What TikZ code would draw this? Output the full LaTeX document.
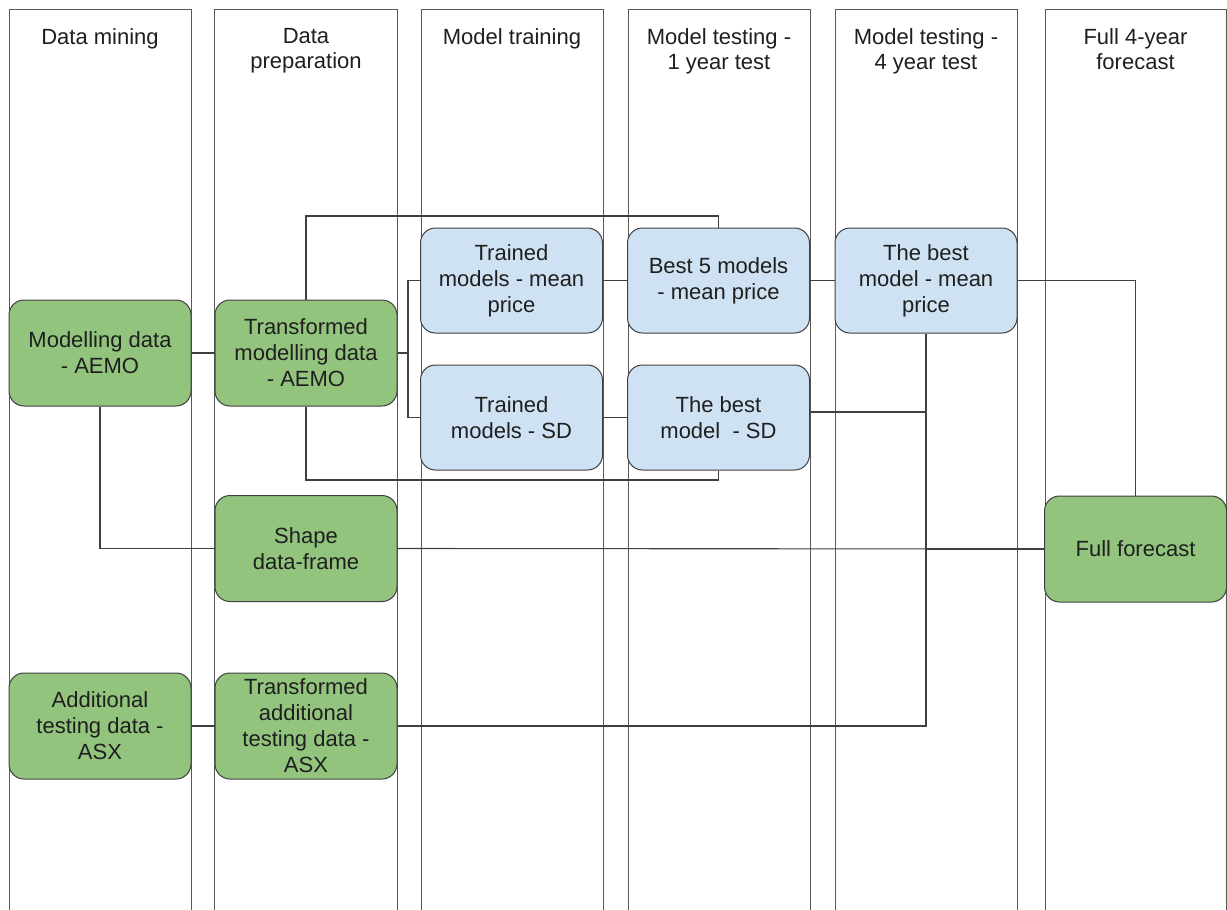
\documentclass[tikz,border=0pt]{standalone}
\usepackage{fontspec}
\setmainfont{Liberation Sans}
\definecolor{gfill}{HTML}{93C47D}
\definecolor{bfill}{HTML}{CFE2F3}
\definecolor{edge}{HTML}{404040}
\definecolor{lane}{HTML}{595959}
\definecolor{txt}{HTML}{1F1F1F}
\tikzset{
  box/.style={draw=edge, line width=1pt, rounded corners=15pt, inner sep=0pt,
    align=center, text=txt, font=\fontsize{22pt}{26pt}\selectfont},
  gbox/.style={box, fill=gfill, minimum width=182pt, minimum height=106pt},
  bbox/.style={box, fill=bfill, minimum width=182pt, minimum height=105pt},
  lanebox/.style={draw=lane, line width=0.9pt},
  hdr/.style={anchor=north, inner sep=0pt, align=center, text=txt,
    font=\fontsize{22pt}{25pt}\selectfont},
  conn/.style={draw=edge, line width=1.1pt}
}
\begin{document}
\begin{tikzpicture}[x=1pt,y=-1pt]
\useasboundingbox (0,0) rectangle (1227,910);
\fill[white] (0,0) rectangle (1227,910);
% lanes
\foreach \a/\b in {9/191, 214/397, 421/603, 628/810, 835/1017, 1045/1226}{
  \draw[lanebox] (\a,911) -- (\a,9) -- (\b,9) -- (\b,911);
}
% headers
\node[hdr] (h1) at (100,28) {Data mining};
\node[hdr] (h2) at (306,28) {Data\\preparation};
\node[hdr] (h3) at (512,28) {Model training};
\node[hdr] (h4) at (719,28) {Model testing -\\1 year test};
\node[hdr] (h5) at (926,28) {Model testing -\\4 year test};
\node[hdr] (h6) at (1135.5,28) {Full 4-year\\forecast};
% nodes
\node[gbox] (md) at (100,353) {Modelling data\\- AEMO};
\node[gbox] (tmd) at (306,353) {Transformed\\modelling data\\- AEMO};
\node[gbox] (sdf) at (306,548.5) {Shape\\data-frame};
\node[gbox] (atd) at (100,726) {Additional\\testing data -\\ASX};
\node[gbox] (tatd) at (306,726) {Transformed\\additional\\testing data -\\ASX};
\node[bbox] (tmp) at (511.5,280.5) {Trained\\models - mean\\price};
\node[bbox] (tsd) at (511.5,417.5) {Trained\\models - SD};
\node[bbox] (b5) at (718.5,280.5) {Best 5 models\\- mean price};
\node[bbox] (bsd) at (718.5,417.5) {The best\\model\ \ - SD};
\node[bbox] (bmp) at (926,280.5) {The best\\model - mean\\price};
\node[gbox] (ff) at (1135.5,549) {Full forecast};
% junction coordinates
\coordinate (j1) at (408,353);
\coordinate (top) at (306,216);
\coordinate (bot) at (306,480);
\coordinate (j2) at (926,549);
% connectors
\draw[conn] (md.east) -- (tmd.west);
\draw[conn] (md.south) |- (sdf.west);
\draw[conn] (tmd.east) -- (j1) |- (tmp.west);
\draw[conn] (j1) |- (tsd.west);
\draw[conn] (tmd.north) -- (top) -| (b5.north);
\draw[conn] (tmd.south) -- (bot) -| (bsd.south);
\draw[conn] (tmp.east) -- (b5.west);
\draw[conn] (tsd.east) -- (bsd.west);
\draw[conn] (b5.east) -- (bmp.west);
\draw[conn] (bmp.east) -| (ff.north);
\draw[conn] (bmp.south) -- (j2) -- (ff.west);
\draw[conn] ([yshift=5.5pt]bsd.east) -| (j2);
\draw[conn] (sdf.east) -- (ff.west);
\draw[conn] (tatd.east) -| (bmp.south);
\draw[conn] (atd.east) -- (tatd.west);
\end{tikzpicture}
\end{document}
